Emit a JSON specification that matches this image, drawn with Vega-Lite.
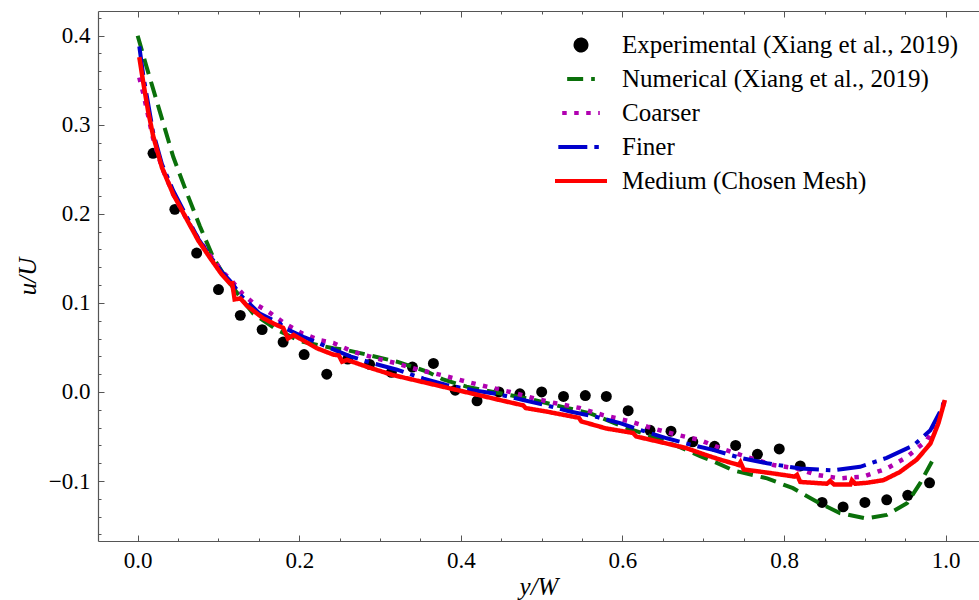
{
  "$schema": "https://vega.github.io/schema/vega-lite/v6.json",
  "width": 881,
  "height": 530,
  "autosize": "none",
  "padding": {"left": 98, "top": 11, "right": 0, "bottom": 59},
  "background": "white",
  "config": {
    "view": {"stroke": null},
    "axis": {"grid": false, "domainColor": "#555", "tickColor": "#555", "tickWidth": 1, "domainWidth": 1.2, "labelFont": "Liberation Serif", "labelFontSize": 23, "labelColor": "black", "titleFont": "Liberation Serif", "titleFontSize": 25, "titleFontWeight": "normal", "titleFontStyle": "italic", "titleColor": "black", "labelOverlap": false, "labelFlush": false, "labelBound": false},
    "legend": {"orient": "none", "legendX": 455, "legendY": 19, "title": null, "direction": "vertical",
      "symbolType": "stroke", "symbolSize": 2704, "symbolStrokeWidth": 4, "clipHeight": 30, "rowPadding": 4,
      "labelOffset": 13, "labelFont": "Liberation Serif", "labelFontSize": 25, "labelColor": "black", "labelLimit": 500, "padding": 0}
  },
  "datasets": {
    "frame": [{"edge": "top"}],
    "points": [
      {"x": 0.019, "y": 0.268}, {"x": 0.046, "y": 0.205}, {"x": 0.073, "y": 0.156}, {"x": 0.100, "y": 0.115},
      {"x": 0.127, "y": 0.086}, {"x": 0.154, "y": 0.070}, {"x": 0.180, "y": 0.056}, {"x": 0.206, "y": 0.042},
      {"x": 0.234, "y": 0.020}, {"x": 0.260, "y": 0.037}, {"x": 0.287, "y": 0.031}, {"x": 0.314, "y": 0.022},
      {"x": 0.340, "y": 0.028}, {"x": 0.366, "y": 0.032}, {"x": 0.393, "y": 0.002}, {"x": 0.420, "y": -0.010},
      {"x": 0.447, "y": 0.000}, {"x": 0.473, "y": -0.002}, {"x": 0.500, "y": 0.000}, {"x": 0.527, "y": -0.005},
      {"x": 0.554, "y": -0.004}, {"x": 0.580, "y": -0.005}, {"x": 0.607, "y": -0.021}, {"x": 0.634, "y": -0.043},
      {"x": 0.660, "y": -0.044}, {"x": 0.687, "y": -0.056}, {"x": 0.714, "y": -0.061}, {"x": 0.740, "y": -0.060},
      {"x": 0.767, "y": -0.070}, {"x": 0.794, "y": -0.064}, {"x": 0.820, "y": -0.083}, {"x": 0.847, "y": -0.124},
      {"x": 0.873, "y": -0.129}, {"x": 0.900, "y": -0.124}, {"x": 0.927, "y": -0.121}, {"x": 0.953, "y": -0.116},
      {"x": 0.980, "y": -0.102}
    ],
    "numerical": [
      {"x": 0.0, "y": 0.400}, {"x": 0.011, "y": 0.365}, {"x": 0.028, "y": 0.313}, {"x": 0.044, "y": 0.264},
      {"x": 0.061, "y": 0.223}, {"x": 0.077, "y": 0.186}, {"x": 0.094, "y": 0.150}, {"x": 0.110, "y": 0.127},
      {"x": 0.135, "y": 0.097}, {"x": 0.143, "y": 0.088}, {"x": 0.172, "y": 0.070}, {"x": 0.201, "y": 0.057},
      {"x": 0.242, "y": 0.049}, {"x": 0.259, "y": 0.047}, {"x": 0.283, "y": 0.042}, {"x": 0.321, "y": 0.034},
      {"x": 0.358, "y": 0.023}, {"x": 0.378, "y": 0.014}, {"x": 0.407, "y": 0.006}, {"x": 0.440, "y": 0.000},
      {"x": 0.481, "y": -0.007}, {"x": 0.527, "y": -0.017}, {"x": 0.560, "y": -0.024}, {"x": 0.601, "y": -0.039},
      {"x": 0.630, "y": -0.048}, {"x": 0.671, "y": -0.062}, {"x": 0.696, "y": -0.072}, {"x": 0.713, "y": -0.078},
      {"x": 0.737, "y": -0.088}, {"x": 0.779, "y": -0.097}, {"x": 0.811, "y": -0.108}, {"x": 0.840, "y": -0.123},
      {"x": 0.869, "y": -0.136}, {"x": 0.902, "y": -0.142}, {"x": 0.927, "y": -0.138}, {"x": 0.952, "y": -0.125},
      {"x": 0.968, "y": -0.103}, {"x": 0.983, "y": -0.078}
    ],
    "coarser": [
      {"x": 0.002, "y": 0.353}, {"x": 0.007, "y": 0.335}, {"x": 0.019, "y": 0.285}, {"x": 0.030, "y": 0.252},
      {"x": 0.044, "y": 0.222}, {"x": 0.060, "y": 0.195}, {"x": 0.075, "y": 0.172}, {"x": 0.090, "y": 0.153},
      {"x": 0.104, "y": 0.136}, {"x": 0.117, "y": 0.124}, {"x": 0.130, "y": 0.110}, {"x": 0.143, "y": 0.100},
      {"x": 0.162, "y": 0.090}, {"x": 0.182, "y": 0.077}, {"x": 0.203, "y": 0.066}, {"x": 0.226, "y": 0.058},
      {"x": 0.242, "y": 0.055}, {"x": 0.267, "y": 0.045}, {"x": 0.294, "y": 0.038}, {"x": 0.321, "y": 0.032},
      {"x": 0.347, "y": 0.025}, {"x": 0.376, "y": 0.019}, {"x": 0.405, "y": 0.012}, {"x": 0.432, "y": 0.006},
      {"x": 0.461, "y": 0.000}, {"x": 0.490, "y": -0.007}, {"x": 0.519, "y": -0.013}, {"x": 0.547, "y": -0.018},
      {"x": 0.576, "y": -0.026}, {"x": 0.609, "y": -0.033}, {"x": 0.638, "y": -0.041}, {"x": 0.667, "y": -0.048},
      {"x": 0.696, "y": -0.054}, {"x": 0.721, "y": -0.063}, {"x": 0.754, "y": -0.073}, {"x": 0.787, "y": -0.082},
      {"x": 0.816, "y": -0.086}, {"x": 0.840, "y": -0.093}, {"x": 0.869, "y": -0.097}, {"x": 0.898, "y": -0.095},
      {"x": 0.927, "y": -0.086}, {"x": 0.952, "y": -0.073}, {"x": 0.977, "y": -0.054}, {"x": 0.993, "y": -0.026},
      {"x": 0.999, "y": -0.009}
    ],
    "finer": [
      {"x": 0.002, "y": 0.388}, {"x": 0.007, "y": 0.355}, {"x": 0.019, "y": 0.292}, {"x": 0.030, "y": 0.256},
      {"x": 0.044, "y": 0.226}, {"x": 0.060, "y": 0.198}, {"x": 0.075, "y": 0.172}, {"x": 0.090, "y": 0.152},
      {"x": 0.104, "y": 0.135}, {"x": 0.117, "y": 0.122}, {"x": 0.127, "y": 0.109}, {"x": 0.151, "y": 0.088},
      {"x": 0.176, "y": 0.077}, {"x": 0.181, "y": 0.072}, {"x": 0.205, "y": 0.062}, {"x": 0.234, "y": 0.051},
      {"x": 0.263, "y": 0.040}, {"x": 0.292, "y": 0.032}, {"x": 0.321, "y": 0.025}, {"x": 0.354, "y": 0.015},
      {"x": 0.382, "y": 0.008}, {"x": 0.415, "y": 0.002}, {"x": 0.444, "y": -0.002}, {"x": 0.477, "y": -0.009},
      {"x": 0.506, "y": -0.015}, {"x": 0.535, "y": -0.022}, {"x": 0.568, "y": -0.028}, {"x": 0.597, "y": -0.035},
      {"x": 0.630, "y": -0.045}, {"x": 0.655, "y": -0.052}, {"x": 0.688, "y": -0.060}, {"x": 0.712, "y": -0.065},
      {"x": 0.746, "y": -0.074}, {"x": 0.779, "y": -0.080}, {"x": 0.820, "y": -0.086}, {"x": 0.861, "y": -0.088},
      {"x": 0.894, "y": -0.084}, {"x": 0.927, "y": -0.074}, {"x": 0.960, "y": -0.060}, {"x": 0.981, "y": -0.043},
      {"x": 0.993, "y": -0.022}, {"x": 0.999, "y": -0.009}
    ],
    "medium": [
      {"x": 0.002, "y": 0.376}, {"x": 0.007, "y": 0.347}, {"x": 0.013, "y": 0.315}, {"x": 0.019, "y": 0.288},
      {"x": 0.030, "y": 0.252}, {"x": 0.044, "y": 0.222}, {"x": 0.060, "y": 0.195}, {"x": 0.075, "y": 0.170},
      {"x": 0.090, "y": 0.150}, {"x": 0.104, "y": 0.132}, {"x": 0.114, "y": 0.122}, {"x": 0.117, "y": 0.122},
      {"x": 0.120, "y": 0.104}, {"x": 0.127, "y": 0.105}, {"x": 0.135, "y": 0.097}, {"x": 0.155, "y": 0.083},
      {"x": 0.170, "y": 0.076}, {"x": 0.180, "y": 0.072}, {"x": 0.186, "y": 0.060}, {"x": 0.193, "y": 0.064},
      {"x": 0.222, "y": 0.049}, {"x": 0.242, "y": 0.042}, {"x": 0.249, "y": 0.041}, {"x": 0.253, "y": 0.034},
      {"x": 0.259, "y": 0.036}, {"x": 0.288, "y": 0.027}, {"x": 0.316, "y": 0.019}, {"x": 0.349, "y": 0.012},
      {"x": 0.382, "y": 0.005}, {"x": 0.415, "y": -0.002}, {"x": 0.448, "y": -0.009}, {"x": 0.477, "y": -0.015},
      {"x": 0.480, "y": -0.018}, {"x": 0.506, "y": -0.022}, {"x": 0.546, "y": -0.029}, {"x": 0.549, "y": -0.033},
      {"x": 0.580, "y": -0.041}, {"x": 0.613, "y": -0.046}, {"x": 0.617, "y": -0.050}, {"x": 0.646, "y": -0.056},
      {"x": 0.679, "y": -0.063}, {"x": 0.704, "y": -0.071}, {"x": 0.721, "y": -0.076}, {"x": 0.744, "y": -0.082},
      {"x": 0.746, "y": -0.079}, {"x": 0.750, "y": -0.087}, {"x": 0.783, "y": -0.091}, {"x": 0.813, "y": -0.095},
      {"x": 0.816, "y": -0.093}, {"x": 0.820, "y": -0.101}, {"x": 0.853, "y": -0.103}, {"x": 0.857, "y": -0.100},
      {"x": 0.862, "y": -0.104}, {"x": 0.882, "y": -0.104}, {"x": 0.884, "y": -0.099}, {"x": 0.888, "y": -0.103},
      {"x": 0.902, "y": -0.102}, {"x": 0.923, "y": -0.099}, {"x": 0.943, "y": -0.090}, {"x": 0.964, "y": -0.076},
      {"x": 0.981, "y": -0.058}, {"x": 0.991, "y": -0.035}, {"x": 0.999, "y": -0.009}
    ]
  },
  "resolve": {"axis": {"x": "independent"}},
  "encoding": {
    "y": {"field": "y", "type": "quantitative", "scale": {"domain": [-0.1673, 0.4277], "nice": false, "zero": false},
      "axis": {"orient": "left", "title": "u/U", "labelOverlap": false,
        "values": [-0.16, -0.14, -0.12, -0.1, -0.08, -0.06, -0.04, -0.02, 0, 0.02, 0.04, 0.06, 0.08, 0.1, 0.12, 0.14, 0.16, 0.18, 0.2, 0.22, 0.24, 0.26, 0.28, 0.3, 0.32, 0.34, 0.36, 0.38, 0.4, 0.42],
        "labelExpr": "abs(datum.value*10-round(datum.value*10))<1e-6 ? format(datum.value,'.1f') : ''",
        "tickSize": {"condition": {"test": "abs(datum.value*10-round(datum.value*10))<1e-6", "value": -6}, "value": -3},
        "labelPadding": 14, "titlePadding": 8}},
    "color": {"field": "series", "type": "nominal",
      "scale": {"domain": ["Experimental (Xiang et al., 2019)", "Numerical (Xiang et al., 2019)", "Coarser", "Finer", "Medium (Chosen Mesh)"],
                "range": ["#000000", "#0a700a", "#b000b0", "#0000cc", "#ff0000"]}},
    "strokeDash": {"field": "series", "type": "nominal",
      "scale": {"domain": ["Experimental (Xiang et al., 2019)", "Numerical (Xiang et al., 2019)", "Coarser", "Finer", "Medium (Chosen Mesh)"],
                "range": [[1, 0], [16, 8], [4.5, 7.5], [29, 7, 4.5, 7], [1, 0]]}}
  },
  "layer": [
    {
      "data": {"name": "frame"},
      "mark": {"type": "rule", "strokeWidth": 1.2},
      "encoding": {
        "y": {"datum": 0.4277, "type": "quantitative", "axis": {"orient": "left", "title": "u/U", "labelOverlap": false,
          "values": [-0.16, -0.14, -0.12, -0.1, -0.08, -0.06, -0.04, -0.02, 0, 0.02, 0.04, 0.06, 0.08, 0.1, 0.12, 0.14, 0.16, 0.18, 0.2, 0.22, 0.24, 0.26, 0.28, 0.3, 0.32, 0.34, 0.36, 0.38, 0.4, 0.42],
          "labelExpr": "abs(datum.value*10-round(datum.value*10))<1e-6 ? format(datum.value,'.1f') : ''",
          "tickSize": {"condition": {"test": "abs(datum.value*10-round(datum.value*10))<1e-6", "value": -6}, "value": -3},
          "labelPadding": 14, "titlePadding": 8}},
        "color": {"value": "#555"},
        "strokeDash": {"value": [1, 0]}
      }
    },
    {
      "data": {"name": "points"},
      "transform": [{"calculate": "'Experimental (Xiang et al., 2019)'", "as": "series"}],
      "mark": {"type": "point", "filled": true, "opacity": 1, "strokeWidth": 0},
      "encoding": {
        "x": {"field": "x", "type": "quantitative", "scale": {"domain": [-0.0491, 1.0412], "nice": false, "zero": false},
          "axis": {"orient": "bottom", "title": "y/W", "labelOverlap": false,
            "values": [0, 0.05, 0.1, 0.15, 0.2, 0.25, 0.3, 0.35, 0.4, 0.45, 0.5, 0.55, 0.6, 0.65, 0.7, 0.75, 0.8, 0.85, 0.9, 0.95, 1.0],
            "labelExpr": "abs(datum.value*5-round(datum.value*5))<1e-6 ? format(datum.value,'.1f') : ''",
            "tickSize": {"condition": {"test": "abs(datum.value*5-round(datum.value*5))<1e-6", "value": -6}, "value": -3},
            "labelPadding": 14, "titlePadding": -1}},
        "shape": {"field": "series", "type": "nominal",
          "scale": {"domain": ["Experimental (Xiang et al., 2019)", "Numerical (Xiang et al., 2019)", "Coarser", "Finer", "Medium (Chosen Mesh)"],
                    "range": ["circle", "stroke", "stroke", "stroke", "stroke"]}},
        "size": {"field": "series", "type": "nominal",
          "scale": {"domain": ["Experimental (Xiang et al., 2019)", "Numerical (Xiang et al., 2019)", "Coarser", "Finer", "Medium (Chosen Mesh)"],
                    "range": [120, 2704, 2704, 2704, 2704]}}
      }
    },
    {
      "data": {"name": "numerical"},
      "transform": [{"calculate": "'Numerical (Xiang et al., 2019)'", "as": "series"}],
      "mark": {"type": "line", "strokeWidth": 4},
      "encoding": {"x": {"field": "x", "type": "quantitative", "axis": null}}
    },
    {
      "data": {"name": "coarser"},
      "transform": [{"calculate": "'Coarser'", "as": "series"}],
      "mark": {"type": "line", "strokeWidth": 4.5},
      "encoding": {"x": {"field": "x", "type": "quantitative", "axis": null}}
    },
    {
      "data": {"name": "finer"},
      "transform": [{"calculate": "'Finer'", "as": "series"}],
      "mark": {"type": "line", "strokeWidth": 4},
      "encoding": {"x": {"field": "x", "type": "quantitative", "axis": null}}
    },
    {
      "data": {"name": "medium"},
      "transform": [{"calculate": "'Medium (Chosen Mesh)'", "as": "series"}],
      "mark": {"type": "line", "strokeWidth": 4.5},
      "encoding": {
        "x": {"field": "x", "type": "quantitative",
          "axis": {"orient": "top", "title": null, "labels": false,
            "values": [0, 0.05, 0.1, 0.15, 0.2, 0.25, 0.3, 0.35, 0.4, 0.45, 0.5, 0.55, 0.6, 0.65, 0.7, 0.75, 0.8, 0.85, 0.9, 0.95, 1.0],
            "tickSize": {"condition": {"test": "abs(datum.value*5-round(datum.value*5))<1e-6", "value": -6}, "value": -3}}}
      }
    }
  ]
}
